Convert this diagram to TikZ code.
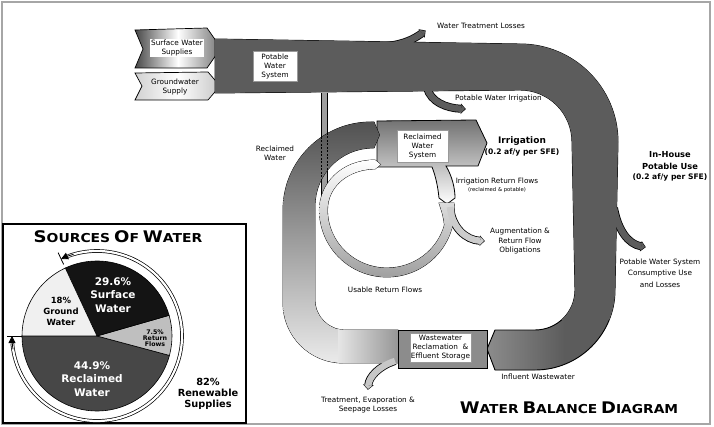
\documentclass[tikz,border=0pt]{standalone}
\usepackage{fontspec}
\setmainfont{DejaVu Sans}
\usepackage{graphicx}
\usetikzlibrary{arrows.meta}
\definecolor{bandc}{gray}{0.36}
\newcommand\wbL[1]{{\fontsize{16}{16}\selectfont #1}}
\newcommand\wbS[1]{{\fontsize{12.3}{12.3}\selectfont #1}}
\begin{document}
\begin{tikzpicture}[x=1pt,y=-1pt,
  lbl/.style={font=\fontsize{7.3}{9}\selectfont, align=center, inner sep=0pt},
  blbl/.style={font=\bfseries\fontsize{#1}{#1}\selectfont, align=center, inner sep=0pt},
  spurblack/.style={draw=black, line width=8pt, shorten >=-0.8pt, -{Triangle[length=5pt,width=10.5pt,line width=0pt]}},
  spurfill/.style={draw=#1, line width=6.4pt, -{Triangle[length=3.8pt,width=8.2pt,line width=0pt]}},
  wbox/.style={draw=black!40, fill=white, line width=0.4pt, inner sep=0pt, align=center, font=\fontsize{7.3}{9}\selectfont},
  olin/.style={draw=black, line width=0.8pt},
]
\useasboundingbox (0,0) rectangle (714,427);
% frame
\draw[black!35, line width=1.3pt] (2,2) rectangle (710,424);

% supply chevrons
\path[draw=black, line width=0.7pt, left color=black!72, right color=black!55, middle color=white]
  (135,30) -- (207,28) -- (221,48) -- (207,68) -- (135,68) -- (143,49) -- cycle;
\path[draw=black, line width=0.7pt, left color=black!18, right color=black!22, middle color=white]
  (135,73) -- (208,72) -- (220,86) -- (208,100) -- (135,100) -- (142,86) -- cycle;
\node[wbox, draw=none, minimum width=54pt, minimum height=18pt] (sws) at (177,48) {Surface Water\\Supplies};
\node[lbl] (gws) at (175,87) {Groundwater\\Supply};

% dark potable band with spurs
\def\wbDark{(215,39) -- (520,44) arc[start angle=-90,end angle=0,radius=98] -- (615,290) arc[start angle=0,end angle=90,radius=80] -- (495,370) -- (487,349) -- (495,330) -- (535,330) arc[start angle=90,end angle=0,radius=40] -- (572,142) arc[start angle=0,end angle=-90,radius=52] -- (215,93) -- cycle}
\def\spA{(387,46) .. controls (404,44) and (414,39) .. (425,31)}
\def\spB{(427,88) .. controls (431,102) and (446,108) .. (465,109)}
\def\spC{(614,208) .. controls (618,230) and (628,244) .. (645,247)}
\fill[bandc] \wbDark;
\begin{scope}
\clip \wbDark;
\shade[left color=black!45, right color=bandc] (486,320) rectangle (565,375);
\end{scope}
\draw[olin, line width=0.9pt] \wbDark;
\draw[spurblack] \spA;
\draw[spurblack] \spB;
\draw[spurblack] \spC;
\begin{scope}
\clip \wbDark;
\fill[bandc] (200,30) rectangle (640,320);
\end{scope}
\draw[spurfill=bandc] \spA;
\draw[spurfill=bandc] \spB;
\draw[spurfill=bandc] \spC;
\node[wbox, minimum width=44pt, minimum height=30pt] (pws) at (275,66) {Potable\\Water\\System};

% pipe from potable system
\fill[black!38] (321,93) rectangle (327,205);
\draw[olin, line width=0.7pt] (321,93) -- (321,205) (327,93) -- (327,205);

% reclaimed water system box with return-flow funnel
\def\wbRbox{(377,121) -- (476,120) -- (487,143) -- (478,166) -- (446,166) .. controls (452,176) and (455,188) .. (455,198) -- (447,204) -- (439,198) .. controls (438,188) and (436,177) .. (432,167) -- (377,167) -- cycle}
\shade[top color=black!55, bottom color=white] \wbRbox;
\draw[olin] \wbRbox;
\node[wbox, minimum width=51pt, minimum height=32pt] (rws) at (422.5,146) {Reclaimed\\Water\\System};

% usable return flow ring + augmentation spur
\def\wbRing{(454,203) arc[start angle=-6,end angle=180,x radius=67.5,y radius=67] .. controls (319.5,185) and (340,160) .. (375,160) -- (380.5,164.5) -- (375,169) .. controls (350,169) and (327.5,185) .. (327.5,210) arc[start angle=180,end angle=15,x radius=59.5,y radius=58] .. controls (443,215) .. (439,203) -- cycle}
\def\spD{(450,207) .. controls (452,228) and (466,240) .. (484,241)}
\shade[top color=white, bottom color=black!38] \wbRing;
\draw[olin] \wbRing;
\draw[spurblack] \spD;
\shade[top color=white, bottom color=black!38] \wbRing;
\draw[spurfill=black!20] \spD;

% reclaimed water band + treatment losses spur
\def\wbRband{(398,363) -- (343,363) arc[start angle=90,end angle=180,radius=60] -- (283,210) arc[start angle=180,end angle=270,radius=88] -- (374,122) -- (379.5,135) -- (374,148) -- (373,148) arc[start angle=270,end angle=180,radius=58] -- (315,300) arc[start angle=180,end angle=90,radius=30] -- (398,330) -- cycle}
\def\spE{(395,361) .. controls (379,366) and (369,377) .. (368,389)}
\newcommand\wbBandShade{%
  \shade[top color=black!68, bottom color=black!8] \wbRband;
  \begin{scope}\clip \wbRband;
  \shade[left color=black!10, right color=black!42] (338,320) rectangle (400,370);
  \end{scope}}
\wbBandShade
\draw[olin] \wbRband;
\draw[spurblack] \spE;
\wbBandShade
\draw[spurfill=black!22] \spE;
\draw[line width=0.5pt, dash pattern=on 2pt off 1.5pt] (321,137) -- (321,180) (327,133) -- (327,171);

% wastewater box
\draw[olin, fill=black!45] (398,330) rectangle (487,368);
\node[wbox, minimum width=61pt, minimum height=29pt] (wwr) at (440.5,347.5) {Wastewater\\Reclamation \ \&\\Effluent Storage};

% labels
\node[lbl, anchor=west] (wtl) at (437,26) {Water Treatment Losses};
\node[lbl, anchor=west] (pwi) at (455,98) {Potable Water Irrigation};
\node[lbl] (rwl) at (275,153) {Reclaimed\\Water};
\node[blbl=9] (irr) at (522,141) {Irrigation};
\node[blbl=7.6] (irs) at (522,152) {(0.2 af/y per SFE)};
\node[lbl] (irf) at (497,181) {Irrigation Return Flows};
\node[lbl, font=\fontsize{5.3}{6}\selectfont] (irp) at (497,190) {(reclaimed \& potable)};
\node[lbl, font=\fontsize{7.3}{9.5}\selectfont] (aug) at (520,241) {Augmentation \&\\Return Flow\\Obligations};
\node[lbl] (urf) at (385,290) {Usable Return Flows};
\node[blbl=8.3] (ih1) at (670,155) {In-House};
\node[blbl=8.3] (ih2) at (670,166) {Potable Use};
\node[blbl=7.6] (ih3) at (670,177) {(0.2 af/y per SFE)};
\node[lbl, font=\fontsize{7.3}{11.5}\selectfont] (pcu) at (660,273) {Potable Water System\\Consumptive Use\\and Losses};
\node[lbl] (inf) at (538,377) {Influent Wastewater};
\node[lbl] (tel) at (368,404.5) {Treatment, Evaporation \&\\Seepage Losses};
\node[inner sep=0pt] (wbd) at (569,408) {\scalebox{1.12}[1]{\bfseries\wbL{W}\wbS{ATER} \wbL{B}\wbS{ALANCE} \wbL{D}\wbS{IAGRAM}}};

% sources of water inset
\draw[line width=1.8pt, fill=white] (3,224) rectangle (246,423);
\node[inner sep=0pt] (sow) at (118,237) {\scalebox{1.13}[1]{\bfseries\wbL{S}\wbS{OURCES} \wbL{O}\wbS{F} \wbL{W}\wbS{ATER}}};
\coordinate (pc) at (97,336);
\filldraw[fill=black!72, draw=black, line width=0.6pt] (pc) -- ++(180:75) arc[start angle=180,end angle=15,radius=75] -- cycle;
\filldraw[fill=black!25, draw=black, line width=0.6pt] (pc) -- ++(15:75) arc[start angle=15,end angle=-16,radius=75] -- cycle;
\filldraw[fill=black!92, draw=black, line width=0.6pt] (pc) -- ++(-16:75) arc[start angle=-16,end angle=-115,radius=75] -- cycle;
\filldraw[fill=black!6, draw=black, line width=0.6pt] (pc) -- ++(-115:75) arc[start angle=-115,end angle=-180,radius=75] -- cycle;
\draw[line width=0.7pt, double=white, double distance=2.2pt] (pc) ++(-110:85) arc[start angle=-110,end angle=175,radius=85];
\draw[line width=0.8pt, -{Triangle[length=7pt,width=7pt]}] (pc) ++(-106:85) arc[start angle=-106,end angle=-115,radius=85];
\draw[line width=0.8pt, -{Triangle[length=7pt,width=7pt]}] (pc) ++(171:85) arc[start angle=171,end angle=180,radius=85];
\draw[line width=0.8pt] (pc) ++(-115:79) -- ++(-115:13);
\draw[line width=0.8pt] (pc) ++(180:75) -- ++(180:15);
\node[blbl=10.5, font=\bfseries\fontsize{10.5}{13.5}\selectfont, text=white] (psw) at (113,295) {29.6\%\\Surface\\Water};
\node[blbl=8.5, font=\bfseries\fontsize{8.5}{11}\selectfont] (pgw) at (61,311) {18\%\\Ground\\Water};
\node[blbl=6.3, font=\bfseries\fontsize{6.3}{6}\selectfont] (prf) at (155,338.5) {7.5\%\\Return\\Flows};
\node[blbl=10.5, font=\bfseries\fontsize{10.5}{13.5}\selectfont, text=white] (prw) at (92,379) {44.9\%\\Reclaimed\\Water};
\node[blbl=9.8, font=\bfseries\fontsize{9.8}{11}\selectfont] (prs) at (208,394) {82\%\\Renewable\\Supplies};
\end{tikzpicture}
\end{document}
